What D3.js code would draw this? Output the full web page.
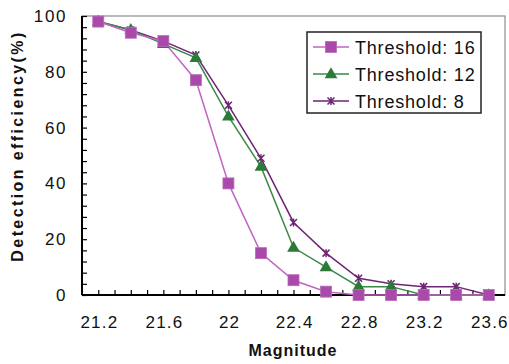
<!DOCTYPE html>
<html>
<head>
<meta charset="utf-8">
<script src="https://cdn.jsdelivr.net/npm/d3@7"></script>
<style>
  html, body { margin: 0; padding: 0; background: #fff; }
  svg { display: block; font-family: "Liberation Sans", Arial, sans-serif; }
</style>
</head>
<body>
<svg id="chart" width="509" height="364"></svg>
<script>
// Magnitude bins
const magnitudes = [21.2, 21.4, 21.6, 21.8, 22.0, 22.2, 22.4, 22.6, 22.8, 23.0, 23.2, 23.4, 23.6];

// Detection efficiency (%) per threshold
const threshold16 = [98, 94, 91, 77, 40, 15, 5.3, 1.2, 0, 0, 0, 0, 0];
const threshold12 = [98, 95, 90, 85, 64, 46, 17, 10, 3, 3, 0, 0, 0];
const threshold8  = [98, 95, 91, 86, 68, 49, 26, 15, 6, 4, 3, 3, 0];

const seriesNames = ["Threshold: 16", "Threshold: 12", "Threshold: 8"];
const xTickValues = [21.2, 21.6, 22.0, 22.4, 22.8, 23.2, 23.6];
const yTickValues = [0, 20, 40, 60, 80, 100];

const series = [
  { name: seriesNames[0], values: threshold16, line: "#c264c4", fill: "#a94aab", marker: "square" },
  { name: seriesNames[1], values: threshold12, line: "#3a8a47", fill: "#2c7a3a", marker: "triangle" },
  { name: seriesNames[2], values: threshold8,  line: "#6e2474", fill: "#6e2474", marker: "star" }
];

const svg = d3.select("#chart");
const m = { left: 82, right: 4, top: 16, bottom: 69 };
const W = 509, H = 364;

const x = d3.scaleLinear().domain([21.1, 23.7]).range([m.left, W - m.right]);
const y = d3.scaleLinear().domain([0, 100]).range([H - m.bottom, m.top]);

// Plot frame: grey top/right, black axes
svg.append("rect")
  .attr("x", m.left).attr("y", m.top)
  .attr("width", W - m.right - m.left).attr("height", H - m.bottom - m.top)
  .attr("fill", "none").attr("stroke", "#8c8c8c").attr("stroke-width", 1.2);

// Minor ticks (inward)
const xMinor = d3.range(21.2, 23.65, 0.1);
svg.append("g").attr("transform", `translate(0,${y(0)})`)
  .call(d3.axisBottom(x).tickValues(xMinor).tickSize(-5).tickFormat(""))
  .call(g => g.select(".domain").remove())
  .call(g => g.selectAll("line").attr("stroke", "#000").attr("stroke-width", 1.2));
svg.append("g").attr("transform", `translate(${m.left},0)`)
  .call(d3.axisLeft(y).tickValues(d3.range(0, 101, 4)).tickSize(-5).tickFormat(""))
  .call(g => g.select(".domain").remove())
  .call(g => g.selectAll("line").attr("stroke", "#000").attr("stroke-width", 1.2));

// Major axes with labels
const xAxis = svg.append("g").attr("transform", `translate(0,${y(0)})`)
  .call(d3.axisBottom(x).tickValues(xTickValues).tickSize(0).tickPadding(21)
    .tickFormat(d => d3.format("")(+d.toFixed(1))));
xAxis.select(".domain").attr("stroke", "#000").attr("stroke-width", 2).attr("d", `M${m.left},0H${W - m.right}`);
xAxis.selectAll("text").attr("font-size", 17).attr("fill", "#111")
  .attr("font-family", "Liberation Sans, Arial, sans-serif")
  .attr("dx", "0.6px").style("letter-spacing", "1.2px");

const yAxis = svg.append("g").attr("transform", `translate(${m.left},0)`)
  .call(d3.axisLeft(y).tickValues(yTickValues).tickSize(0).tickPadding(15));
yAxis.select(".domain").attr("stroke", "#000").attr("stroke-width", 2).attr("d", `M0,${y(0)}V${m.top}`);
yAxis.selectAll("text").attr("font-size", 17).attr("fill", "#111")
  .attr("font-family", "Liberation Sans, Arial, sans-serif").style("letter-spacing", "1.6px");

// Axis titles
svg.append("text")
  .attr("x", 293).attr("y", 356)
  .attr("text-anchor", "middle").attr("font-size", 16).attr("font-weight", "bold")
  .style("letter-spacing", "1px").attr("fill", "#111")
  .text("Magnitude");
svg.append("text")
  .attr("transform", `translate(23,146) rotate(-90)`)
  .attr("text-anchor", "middle").attr("font-size", 16).attr("font-weight", "bold")
  .style("letter-spacing", "2.4px").attr("fill", "#111")
  .text("Detection efficiency(%)");

// Marker drawing
function drawMarker(g, s, cx, cy) {
  if (s.marker === "square") {
    g.append("rect").attr("x", cx - 5.5).attr("y", cy - 5.5).attr("width", 11).attr("height", 11)
      .attr("fill", s.fill).attr("stroke", "#b86cb9").attr("stroke-width", 0.8);
  } else if (s.marker === "triangle") {
    g.append("path").attr("d", d3.symbol(d3.symbolTriangle, 70)())
      .attr("transform", `translate(${cx},${cy + 0.5})`).attr("fill", s.fill);
  } else {
    const r = 3.5;
    const p = `M${cx - r},${cy - r}L${cx + r},${cy + r}M${cx - r},${cy + r}L${cx + r},${cy - r}M${cx},${cy - r - 0.5}V${cy + r + 0.5}`;
    g.append("path").attr("d", p).attr("stroke", s.fill).attr("stroke-width", 1.5).attr("fill", "none");
  }
}

const line = d3.line().x((d, i) => x(magnitudes[i])).y(d => y(d));

// Draw series in back-to-front order
[series[2], series[1], series[0]].forEach(s => {
  const g = svg.append("g");
  g.append("path").datum(s.values).attr("d", line)
    .attr("fill", "none").attr("stroke", s.line).attr("stroke-width", 1.5);
});
[series[2], series[1], series[0]].forEach(s => {
  const g = svg.append("g");
  s.values.forEach((v, i) => drawMarker(g, s, x(magnitudes[i]), y(v)));
});

// Legend
const lg = svg.append("g");
lg.append("rect").attr("x", 307).attr("y", 32).attr("width", 174).attr("height", 81)
  .attr("fill", "#fff").attr("stroke", "#222").attr("stroke-width", 1.5);
series.forEach((s, i) => {
  const cy = 47 + i * 27;
  const g = lg.append("g");
  g.append("line").attr("x1", 313).attr("x2", 349).attr("y1", cy).attr("y2", cy)
    .attr("stroke", s.line).attr("stroke-width", 1.5);
  drawMarker(g, s, 331, cy);
  g.append("text").attr("x", 355).attr("y", cy + 6.5)
    .attr("font-size", 18).attr("fill", "#111").style("letter-spacing", "0.8px")
    .text(s.name);
});
</script>
</body>
</html>
